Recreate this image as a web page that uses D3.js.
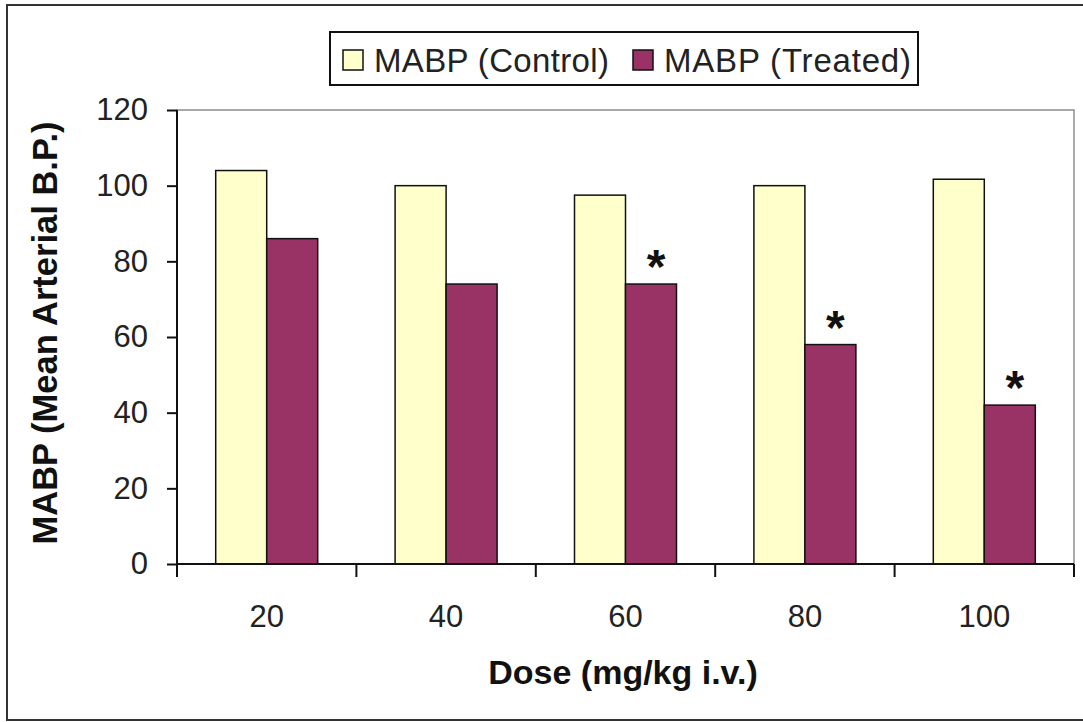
<!DOCTYPE html>
<html>
<head>
<meta charset="utf-8">
<script src="https://cdn.jsdelivr.net/npm/d3@7"></script>
<style>
  body { margin: 0; background: #fff; }
  svg { display: block; font-family: Arial, 'Liberation Sans', sans-serif; }
</style>
</head>
<body>
<div id="chart"></div>
<script>
let doses = ['20', '40', '60', '80', '100']
let control = [104, 100, 97.5, 100, 101.7]
let treated = [86, 74, 74, 58, 42]
let significant = [false, false, true, true, true]
let seriesNames = ['MABP (Control)', 'MABP (Treated)']
let yTicks = [0, 20, 40, 60, 80, 100, 120]

let colors = ['#ffffcc', '#993366']

let W = 1083, H = 722
let margin = { top: 110, left: 177, right: 9, bottom: 158 }
let width = W - margin.left - margin.right
let height = H - margin.top - margin.bottom

let svg = d3.select('#chart').append('svg')
  .attr('width', W).attr('height', H)

// outer frame
svg.append('rect')
  .attr('x', 7).attr('y', 5)
  .attr('width', W + 10).attr('height', 715)
  .attr('fill', 'none').attr('stroke', '#333').attr('stroke-width', 2)

let g = svg.append('g')
  .attr('transform', `translate(${margin.left},${margin.top})`)

let x = d3.scaleBand().domain(doses).range([0, width])
let yScale = d3.scaleLinear().domain([0, 120]).range([height, 0])

let barW = 51

// plot area border
g.append('rect')
  .attr('x', 0).attr('y', 0)
  .attr('width', width).attr('height', height)
  .attr('fill', 'none').attr('stroke', '#8c8c8c').attr('stroke-width', 1.5)

let rows = doses.map((d, i) => ({ dose: d, vals: [control[i], treated[i]], sig: significant[i] }))

let groups = g.selectAll('.dose')
  .data(rows)
  .enter()
  .append('g')
  .attr('class', 'dose')
  .attr('transform', d => `translate(${x(d.dose) + x.bandwidth() / 2 - barW},0)`)

groups.selectAll('rect')
  .data(d => d.vals)
  .enter()
  .append('rect')
  .attr('x', (v, j) => j * barW)
  .attr('y', v => yScale(v))
  .attr('width', barW)
  .attr('height', v => height - yScale(v))
  .attr('fill', (v, j) => colors[j])
  .attr('stroke', '#111')
  .attr('stroke-width', 1.5)

// significance marks
groups.filter(d => d.sig)
  .append('text')
  .text('*')
  .attr('x', barW * 1.5 + 5)
  .attr('y', d => yScale(d.vals[1]) - 1)
  .attr('text-anchor', 'middle')
  .attr('font-weight', 'bold')
  .attr('font-size', 48)
  .attr('fill', '#111')

// y axis
let yAxis = g.append('g')
  .call(d3.axisLeft(yScale).tickValues(yTicks).tickSize(10).tickPadding(19))
yAxis.select('.domain').attr('stroke', '#111').attr('stroke-width', 2)
  .attr('d', `M0,0V${height + 13}`)
yAxis.selectAll('.tick line').attr('stroke', '#111').attr('stroke-width', 2)
yAxis.selectAll('.tick text').attr('font-size', 31).attr('fill', '#222')
  .attr('font-family', 'Arial, "Liberation Sans", sans-serif')

// x axis with ticks at band edges
let xAxis = g.append('g').attr('transform', `translate(0,${height})`)
xAxis.append('line')
  .attr('x1', 0).attr('x2', width)
  .attr('stroke', '#111').attr('stroke-width', 2)
xAxis.selectAll('.edge')
  .data(doses.concat(['end']))
  .enter()
  .append('line')
  .attr('class', 'edge')
  .attr('x1', (d, i) => i < doses.length ? x(d) : width)
  .attr('x2', (d, i) => i < doses.length ? x(d) : width)
  .attr('y1', 0).attr('y2', 13)
  .attr('stroke', '#111').attr('stroke-width', 2)
xAxis.selectAll('.lbl')
  .data(doses)
  .enter()
  .append('text')
  .attr('class', 'lbl')
  .text(d => d)
  .attr('x', d => x(d) + x.bandwidth() / 2)
  .attr('y', 63)
  .attr('text-anchor', 'middle')
  .attr('font-size', 31)
  .attr('fill', '#222')

// axis titles
svg.append('text')
  .text('Dose (mg/kg i.v.)')
  .attr('x', 623).attr('y', 684)
  .attr('text-anchor', 'middle')
  .attr('font-weight', 'bold')
  .attr('font-size', 34)
  .attr('fill', '#111')

svg.append('text')
  .text('MABP (Mean Arterial B.P.)')
  .attr('transform', 'translate(57,333) rotate(-90)')
  .attr('text-anchor', 'middle')
  .attr('font-weight', 'bold')
  .attr('font-size', 34.5)
  .attr('fill', '#111')

// legend
let legend = svg.append('g')
legend.append('rect')
  .attr('x', 330).attr('y', 32)
  .attr('width', 588).attr('height', 53)
  .attr('fill', '#fff').attr('stroke', '#111').attr('stroke-width', 2)

let legendX = [343, 633]
let items = legend.selectAll('.item')
  .data(seriesNames)
  .enter()
  .append('g')
  .attr('class', 'item')
  .attr('transform', (d, i) => `translate(${legendX[i]},0)`)
items.append('rect')
  .attr('x', 0).attr('y', 50)
  .attr('width', 20).attr('height', 20)
  .attr('fill', (d, i) => colors[i])
  .attr('stroke', '#111').attr('stroke-width', 1.5)
items.append('text')
  .text(d => d)
  .attr('x', 31).attr('y', 72)
  .attr('font-size', 33)
  .attr('textLength', (d, i) => i === 0 ? 235 : 247)
  .attr('fill', '#222')
</script>
</body>
</html>
